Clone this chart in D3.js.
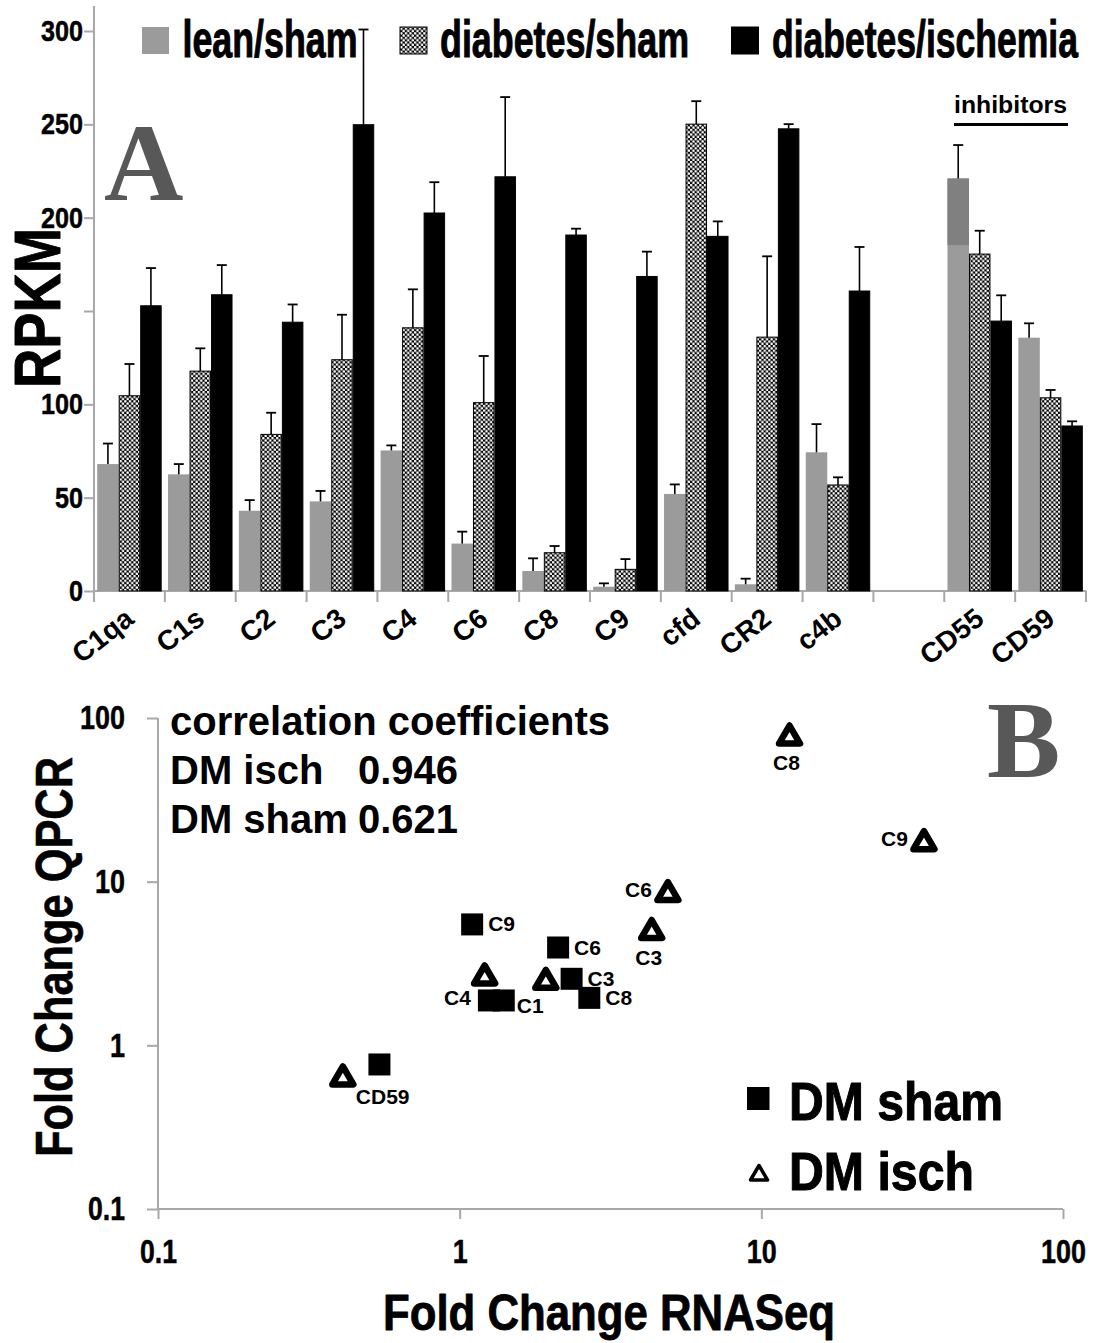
<!DOCTYPE html>
<html>
<head>
<meta charset="utf-8">
<script src="https://cdn.jsdelivr.net/npm/d3@7"></script>
<style>
body { margin: 0; background: #fff; }
svg { display: block; }
</style>
</head>
<body>
<div id="chart"></div>
<script>
// ---- panel A: RPKM per complement gene ----
var genes = ["C1qa", "C1s", "C2", "C3", "C4", "C6", "C8", "C9", "cfd", "CR2", "c4b", "", "CD55", "CD59"];
var seriesNames = ["lean/sham", "diabetes/sham", "diabetes/ischemia"];
var leanSham      = [68, 62.5, 43, 48, 75.3, 25.4, 10.7, 2.3, 52, 3.6, 74.3, null, 221, 135.7];
var leanShamErr   = [79, 68, 48.7, 53.6, 78, 31.8, 17.5, 4.1, 57.1, 6.6, 89.4, null, 238.9, 143.4];
var leanShamDark  = [null, null, null, null, null, null, null, null, null, null, null, null, 185.3, null];
var diabSham      = [104.6, 117.8, 83.9, 123.9, 141, 100.9, 20.5, 11.6, 250.1, 136, 56.8, null, 180.5, 103.5];
var diabShamErr   = [121.6, 130, 95.5, 148, 161.6, 125.9, 24.1, 17.1, 262.4, 179.3, 60.9, null, 193, 107.7];
var diabIsch      = [152.8, 158.7, 144, 249.8, 202.5, 221.9, 190.7, 168.5, 190, 247.6, 160.7, null, 144.6, 88.4];
var diabIschErr   = [173, 174.6, 153.5, 300.8, 219, 264.6, 194.1, 181.8, 198, 250.1, 184.3, null, 158.4, 90.9];
var rpkmTicks = [0, 50, 100, 150, 200, 250, 300];
var rpkmLabelled = [0, 50, 100, 200, 250, 300];

// ---- panel B: fold change RNASeq vs QPCR ----
var shamGenes = ["C9", "C6", "C3", "C8", "C4", "C1", "CD59"];
var shamRna   = [1.10, 2.12, 2.35, 2.69, 1.25, 1.40, 0.542];
var shamQpcr  = [5.48, 3.96, 2.55, 1.95, 1.88, 1.88, 0.764];
var shamLabelAt = ["r", "r", "r", "r", "l", "rb", "none"];
var ischGenes = ["C8", "C9", "C6", "C3", "C4", "C1", "CD59"];
var ischRna   = [12.4, 34.6, 4.9, 4.33, 1.21, 1.93, 0.41];
var ischQpcr  = [78.7, 17.8, 8.7, 5.1, 2.69, 2.53, 0.65];
var ischLabelAt = ["b", "l", "l", "b", "none", "none", "br"];
var logTicks = [0.1, 1, 10, 100];

var width = 1095, height = 1343;
var sans = "'Liberation Sans', Arial, sans-serif";
var narrow = "'Liberation Sans Narrow', 'Arial Narrow', 'Liberation Sans', sans-serif";
var serif = "'Liberation Serif', 'Times New Roman', serif";
var axisGrey = "#a8a8a8";

function fit(sel, w) {
    sel.attr("textLength", w).attr("lengthAdjust", "spacingAndGlyphs");
}
function heavy(sel, w) {
    sel.attr("stroke", "#000").attr("stroke-width", w || 0.8).attr("stroke-linejoin", "round");
}
function numWidth(s, digit, dot) {
    return s.split("").reduce(function(a, c){ return a + (c === "." ? dot : digit); }, 0);
}

var svg = d3.select("#chart").append("svg")
    .attr("width", width)
    .attr("height", height);

var pat = svg.append("defs").append("pattern")
    .attr("id", "dots")
    .attr("patternUnits", "userSpaceOnUse")
    .attr("width", 4.6).attr("height", 4.6);
pat.append("rect").attr("width", 4.6).attr("height", 4.6).attr("fill", "#000");
pat.append("circle").attr("cx", 1.15).attr("cy", 1.15).attr("r", 1.3).attr("fill", "#fff");
pat.append("circle").attr("cx", 3.45).attr("cy", 3.45).attr("r", 1.3).attr("fill", "#fff");

// =================== PANEL A ===================
var x0 = d3.scaleBand().domain(genes).range([94, 1086]).paddingInner(0.09).paddingOuter(0.045);
var x1 = d3.scaleBand().domain(seriesNames).range([0, x0.bandwidth()]);
var y = d3.scaleLinear().domain([0, 300]).range([591, 31]);

var seriesData = [
    {name: seriesNames[0], vals: leanSham, errs: leanShamErr, fill: "#9b9b9b", stroke: "none"},
    {name: seriesNames[1], vals: diabSham, errs: diabShamErr, fill: "url(#dots)", stroke: "#000"},
    {name: seriesNames[2], vals: diabIsch, errs: diabIschErr, fill: "#000", stroke: "#000"}
];

// axes
var gA = svg.append("g");
gA.append("line")
    .attr("x1", x0.range()[0]).attr("x2", x0.range()[0])
    .attr("y1", 6).attr("y2", y(0))
    .attr("stroke", axisGrey).attr("stroke-width", 2);
gA.append("line")
    .attr("x1", x0.range()[0]).attr("x2", x0.range()[1])
    .attr("y1", y(0)).attr("y2", y(0))
    .attr("stroke", axisGrey).attr("stroke-width", 2);

var yAxis = d3.axisLeft(y).tickValues(rpkmTicks).tickSize(10).tickPadding(1)
    .tickFormat(function(d){ return rpkmLabelled.indexOf(d) >= 0 ? d : ""; });
var yg = gA.append("g").attr("transform", "translate(" + x0.range()[0] + ",0)").call(yAxis);
yg.select(".domain").remove();
yg.selectAll(".tick line").attr("stroke", axisGrey).attr("stroke-width", 2);
yg.selectAll(".tick text")
    .attr("fill", "#000")
    .style("font-family", narrow).style("font-weight", "bold").style("font-size", "30px")
    .call(heavy, 0.5)
    .each(function(d){ if (rpkmLabelled.indexOf(d) >= 0) fit(d3.select(this), numWidth(String(d), 14, 6)); });

// group boundary ticks
var bounds = genes.map(function(g, i){ return x0.range()[0] + i * x0.step(); });
bounds.push(x0.range()[1]);
gA.selectAll(".gtick").data(bounds).enter().append("line")
    .attr("x1", function(d){ return d; }).attr("x2", function(d){ return d; })
    .attr("y1", y(0)).attr("y2", y(0) + 11)
    .attr("stroke", axisGrey).attr("stroke-width", 2);

// bars
seriesData.forEach(function(s){
    var idx = d3.range(genes.length).filter(function(i){ return s.vals[i] != null; });
    gA.selectAll(null).data(idx).enter().append("rect")
        .attr("x", function(i){ return x0(genes[i]) + x1(s.name) + (s.stroke !== "none" ? 0.5 : 0); })
        .attr("y", function(i){ return y(s.vals[i]); })
        .attr("width", x1.bandwidth() - (s.stroke !== "none" ? 1 : 0))
        .attr("height", function(i){ return y(0) - y(s.vals[i]); })
        .attr("fill", s.fill)
        .attr("stroke", s.stroke)
        .attr("stroke-width", 1);
});
// darker upper part of the CD55 lean bar
var darkIdx = d3.range(genes.length).filter(function(i){ return leanShamDark[i] != null; });
gA.selectAll(null).data(darkIdx).enter().append("rect")
    .attr("x", function(i){ return x0(genes[i]) + x1(seriesNames[0]); })
    .attr("y", function(i){ return y(leanSham[i]); })
    .attr("width", x1.bandwidth())
    .attr("height", function(i){ return y(leanShamDark[i]) - y(leanSham[i]); })
    .attr("fill", "#808080");

// error bars
seriesData.forEach(function(s){
    var idx = d3.range(genes.length).filter(function(i){ return s.errs[i] != null; });
    var cx = function(i){ return x0(genes[i]) + x1(s.name) + x1.bandwidth() / 2; };
    gA.selectAll(null).data(idx).enter().append("line")
        .attr("x1", cx).attr("x2", cx)
        .attr("y1", function(i){ return y(s.vals[i]); })
        .attr("y2", function(i){ return y(s.errs[i]); })
        .attr("stroke", "#000").attr("stroke-width", 1.6);
    gA.selectAll(null).data(idx).enter().append("line")
        .attr("x1", function(i){ return cx(i) - 5; }).attr("x2", function(i){ return cx(i) + 5; })
        .attr("y1", function(i){ return y(s.errs[i]); })
        .attr("y2", function(i){ return y(s.errs[i]); })
        .attr("stroke", "#000").attr("stroke-width", 1.8);
});

// category labels
gA.selectAll(".xlab").data(genes.filter(function(g){ return g !== ""; })).enter().append("text")
    .attr("transform", function(g){ return "translate(" + (x0(g) + x0.bandwidth() / 2 + 6) + ",622) rotate(-38)"; })
    .attr("text-anchor", "end")
    .style("font-family", sans).style("font-weight", "bold").style("font-size", "28px")
    .text(function(g){ return g; });

// y title
gA.append("text")
    .attr("transform", "translate(60,308) rotate(-90)")
    .attr("text-anchor", "middle")
    .style("font-family", sans).style("font-weight", "bold").style("font-size", "64px")
    .call(fit, 160)
    .call(heavy, 1)
    .text("RPKM");

// panel letter
gA.append("text")
    .attr("x", 104).attr("y", 200)
    .attr("fill", "#585858")
    .style("font-family", serif).style("font-weight", "bold").style("font-size", "110px")
    .text("A");

// legend
var legX = [142, 400, 731.5], legTX = [182.5, 440, 772], legW = [175, 249, 306];
var leg = gA.selectAll(".leg").data(seriesData).enter().append("g");
leg.append("rect")
    .attr("x", function(d, i){ return legX[i]; }).attr("y", 27)
    .attr("width", 27).attr("height", 27)
    .attr("fill", function(d){ return d.fill; })
    .attr("stroke", function(d){ return d.stroke === "none" ? "none" : "#000"; });
leg.append("text")
    .attr("x", function(d, i){ return legTX[i]; }).attr("y", 57)
    .style("font-family", narrow).style("font-weight", "bold").style("font-size", "52px")
    .attr("textLength", function(d, i){ return legW[i]; })
    .attr("lengthAdjust", "spacingAndGlyphs")
    .call(heavy, 1)
    .text(function(d){ return d.name; });

// inhibitors note
gA.append("text")
    .attr("x", 954).attr("y", 113)
    .style("font-family", sans).style("font-weight", "bold").style("font-size", "23px")
    .call(fit, 113)
    .text("inhibitors");
gA.append("line")
    .attr("x1", 954).attr("x2", 1068).attr("y1", 124.5).attr("y2", 124.5)
    .attr("stroke", "#000").attr("stroke-width", 3);

// =================== PANEL B ===================
var xB = d3.scaleLog().domain([0.1, 100]).range([158, 1063]);
var yB = d3.scaleLog().domain([0.1, 100]).range([1209, 718]);
var gB = svg.append("g");

gB.append("line").attr("x1", xB(0.1)).attr("x2", xB(0.1)).attr("y1", yB(100)).attr("y2", yB(0.1))
    .attr("stroke", axisGrey).attr("stroke-width", 2);
gB.append("line").attr("x1", xB(0.1)).attr("x2", xB(100)).attr("y1", yB(0.1)).attr("y2", yB(0.1))
    .attr("stroke", axisGrey).attr("stroke-width", 2);

var yAxB = d3.axisLeft(yB).tickValues(logTicks).tickSize(11).tickPadding(22).tickFormat(function(d){ return String(d); });
var ygB = gB.append("g").attr("transform", "translate(" + xB(0.1) + ",0)").call(yAxB);
ygB.select(".domain").remove();
ygB.selectAll(".tick line").attr("stroke", axisGrey).attr("stroke-width", 2);
ygB.selectAll(".tick text")
    .attr("fill", "#000")
    .style("font-family", narrow).style("font-weight", "bold").style("font-size", "34px")
    .call(heavy, 0.5)
    .each(function(d){ fit(d3.select(this), numWidth(String(d), 15, 7)); });

var xAxB = d3.axisBottom(xB).tickValues(logTicks).tickSize(10).tickPadding(20).tickFormat(function(d){ return String(d); });
var xgB = gB.append("g").attr("transform", "translate(0," + yB(0.1) + ")").call(xAxB);
xgB.select(".domain").remove();
xgB.selectAll(".tick line").attr("stroke", axisGrey).attr("stroke-width", 2);
xgB.selectAll(".tick text")
    .attr("fill", "#000")
    .style("font-family", narrow).style("font-weight", "bold").style("font-size", "34px")
    .call(heavy, 0.5)
    .each(function(d){ fit(d3.select(this), numWidth(String(d), 15, 7)); });

// axis titles
gB.append("text")
    .attr("transform", "translate(72,957) rotate(-90)")
    .attr("text-anchor", "middle")
    .style("font-family", sans).style("font-weight", "bold").style("font-size", "52px")
    .call(fit, 400)
    .call(heavy, 0.6)
    .text("Fold Change QPCR");
gB.append("text")
    .attr("x", 609).attr("y", 1330)
    .attr("text-anchor", "middle")
    .style("font-family", narrow).style("font-weight", "bold").style("font-size", "50px")
    .call(fit, 452)
    .call(heavy, 0.8)
    .text("Fold Change RNASeq");

// correlation text
var corr = gB.append("g").style("font-family", sans).style("font-weight", "bold").style("font-size", "40px");
corr.append("text").attr("x", 170).attr("y", 735).call(fit, 440).text("correlation coefficients");
corr.append("text").attr("x", 170).attr("y", 784).text("DM isch");
corr.append("text").attr("x", 358).attr("y", 784).text("0.946");
corr.append("text").attr("x", 170).attr("y", 833).text("DM sham");
corr.append("text").attr("x", 358).attr("y", 833).text("0.621");

gB.append("text")
    .attr("x", 987).attr("y", 777)
    .attr("fill", "#585858")
    .style("font-family", serif).style("font-weight", "bold").style("font-size", "110px")
    .text("B");

var triPath = "M0,-9.5 L10.5,8.5 L-10.5,8.5 Z";
var labelOffsets = {
    sq:  {r: [16, 7, "start"], rb: [13, 13, "start"], l: [-18, 5, "end"]},
    tri: {l: [-16, 5, "end"], b: [-3, 35, "middle"], br: [13, 28, "start"]}
};

function drawPoints(names, rna, qpcr, where, kind) {
    var idx = d3.range(names.length);
    if (kind === "sq") {
        gB.selectAll(null).data(idx).enter().append("rect")
            .attr("x", function(i){ return xB(rna[i]) - 11; })
            .attr("y", function(i){ return yB(qpcr[i]) - 11; })
            .attr("width", 22).attr("height", 22)
            .attr("fill", "#000");
    } else {
        gB.selectAll(null).data(idx).enter().append("path")
            .attr("d", triPath)
            .attr("transform", function(i){ return "translate(" + xB(rna[i]) + "," + yB(qpcr[i]) + ")"; })
            .attr("fill", "#fff").attr("stroke", "#000")
            .attr("stroke-width", 6.5).attr("stroke-linejoin", "round");
    }
    var lab = idx.filter(function(i){ return where[i] !== "none"; });
    gB.selectAll(null).data(lab).enter().append("text")
        .attr("x", function(i){ return xB(rna[i]) + labelOffsets[kind][where[i]][0]; })
        .attr("y", function(i){ return yB(qpcr[i]) + labelOffsets[kind][where[i]][1]; })
        .attr("text-anchor", function(i){ return labelOffsets[kind][where[i]][2]; })
        .style("font-family", sans).style("font-weight", "bold").style("font-size", "21px")
        .text(function(i){ return names[i]; });
}
drawPoints(ischGenes, ischRna, ischQpcr, ischLabelAt, "tri");
drawPoints(shamGenes, shamRna, shamQpcr, shamLabelAt, "sq");

// legend B
gB.append("rect").attr("x", 747).attr("y", 1087).attr("width", 22.5).attr("height", 23).attr("fill", "#000");
gB.append("path").attr("d", "M0,-7.5 L8.5,7 L-8.5,7 Z")
    .attr("transform", "translate(759,1173)")
    .attr("fill", "#fff").attr("stroke", "#000").attr("stroke-width", 3.5).attr("stroke-linejoin", "round");
gB.append("text").attr("x", 789).attr("y", 1120)
    .style("font-family", narrow).style("font-weight", "bold").style("font-size", "54px")
    .call(fit, 214).call(heavy, 1).text("DM sham");
gB.append("text").attr("x", 789).attr("y", 1190)
    .style("font-family", narrow).style("font-weight", "bold").style("font-size", "54px")
    .call(fit, 185).call(heavy, 1).text("DM isch");
</script>
</body>
</html>
